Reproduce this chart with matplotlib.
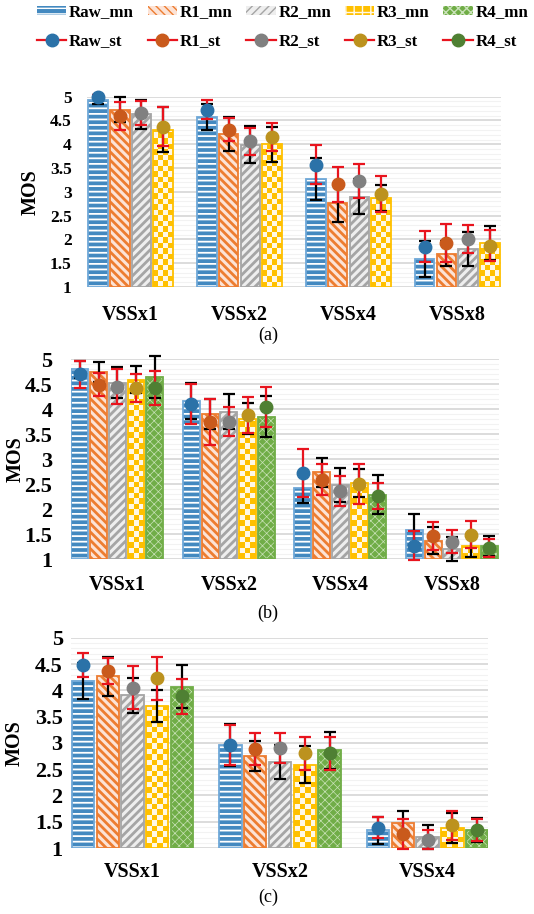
import numpy as np
import matplotlib
matplotlib.use("Agg")
from matplotlib import pyplot as plt
from matplotlib.patches import Patch
from matplotlib.lines import Line2D
from matplotlib.colors import ListedColormap
from matplotlib.ticker import FuncFormatter

#---------------------------DATA---------------------------------
series = ["Raw", "R1", "R2", "R3", "R4"]

# panel (a): no R4
groups_a = ["VSSx1", "VSSx2", "VSSx4", "VSSx8"]
mn_a = [[4.94, 4.58, 3.27, 1.59],
        [4.73, 4.21, 2.76, 1.70],
        [4.63, 3.99, 2.90, 1.80],
        [4.31, 4.00, 2.87, 1.92]]
mn_err_a = [[0.10, 0.27, 0.45, 0.37],
            [0.26, 0.36, 0.40, 0.26],
            [0.30, 0.39, 0.36, 0.35],
            [0.47, 0.37, 0.27, 0.36]]
st_a = [[5.00, 4.73, 3.57, 1.85],
        [4.59, 4.31, 3.16, 1.92],
        [4.65, 4.06, 3.23, 2.01],
        [4.37, 4.15, 2.96, 1.87]]
st_err_a = [[0.03, 0.20, 0.41, 0.33],
            [0.30, 0.25, 0.37, 0.40],
            [0.25, 0.28, 0.35, 0.30],
            [0.41, 0.30, 0.38, 0.33]]

# panel (b)
groups_b = ["VSSx1", "VSSx2", "VSSx4", "VSSx8"]
mn_b = [[4.80, 4.17, 2.43, 1.59],
        [4.74, 3.90, 2.74, 1.37],
        [4.53, 3.95, 2.49, 1.21],
        [4.59, 3.81, 2.53, 1.27],
        [4.64, 3.85, 2.29, 1.27]]
mn_err_b = [[0.17, 0.36, 0.30, 0.31],
            [0.20, 0.30, 0.29, 0.27],
            [0.31, 0.35, 0.34, 0.24],
            [0.27, 0.31, 0.28, 0.23],
            [0.42, 0.41, 0.39, 0.20]]
st_b = [[4.70, 4.10, 2.73, 1.27],
        [4.49, 3.75, 2.59, 1.47],
        [4.45, 3.75, 2.37, 1.35],
        [4.43, 3.89, 2.51, 1.49],
        [4.42, 4.05, 2.27, 1.22]]
st_err_b = [[0.27, 0.40, 0.48, 0.29],
            [0.23, 0.46, 0.31, 0.28],
            [0.35, 0.29, 0.30, 0.23],
            [0.28, 0.36, 0.40, 0.27],
            [0.34, 0.40, 0.26, 0.18]]

# panel (c)
groups_c = ["VSSx1", "VSSx2", "VSSx4"]
mn_c = [[4.18, 2.97, 1.34],
        [4.27, 2.75, 1.48],
        [3.91, 2.64, 1.21],
        [3.70, 2.59, 1.38],
        [4.07, 2.86, 1.34]]
mn_err_c = [[0.35, 0.40, 0.26],
            [0.37, 0.29, 0.23],
            [0.33, 0.33, 0.23],
            [0.30, 0.35, 0.28],
            [0.41, 0.35, 0.23]]
st_c = [[4.48, 2.96, 1.39],
        [4.37, 2.89, 1.27],
        [4.05, 2.90, 1.16],
        [4.23, 2.80, 1.43],
        [3.89, 2.80, 1.34]]
st_err_c = [[0.23, 0.38, 0.20],
            [0.25, 0.30, 0.28],
            [0.41, 0.29, 0.18],
            [0.41, 0.31, 0.27],
            [0.33, 0.31, 0.21]]

#---------------------------STYLE--------------------------------
FACE = {"Raw": "#4389C0", "R1": "#FCE3D6", "R2": "#EEEEEE", "R3": "#FFC000", "R4": "#70AD47"}
HATCH_COL = {"Raw": "white", "R1": "#ED7D31", "R2": "#A5A5A5", "R3": "#FFC000", "R4": "#C9E2B8"}
HATCH = {"Raw": "---", "R1": "\\\\\\\\", "R2": "////", "R3": "", "R4": "xxxx"}
HATCH_LW = {"Raw": 1.3, "R1": 2.0, "R2": 2.0, "R3": 1.0, "R4": 0.5}
EDGE = {"Raw": "#6FA8D8", "R1": "#ED7D31", "R2": "#A5A5A5", "R3": "#FFC000", "R4": "#70AD47"}
MARK = {"Raw": "#2B72A8", "R1": "#C95A1C", "R2": "#808080", "R3": "#BC921E", "R4": "#4F8033"}
RED = "#E8141E"

plt.rcParams["font.family"] = "serif"
plt.rcParams["font.serif"] = ["Liberation Serif", "Times New Roman", "DejaVu Serif"]


def checker(ax, bar):
    # yellow / white checkerboard clipped to the bar
    p0 = ax.transData.transform((0, 0))
    p1 = ax.transData.transform((1, 1))
    px_x, px_y = p1[0] - p0[0], p1[1] - p0[1]
    sq = 5.5
    x0, w = bar.get_x(), bar.get_width()
    y0, h = bar.get_y(), bar.get_height()
    ncol = max(1, int(round(w * px_x / sq)))
    sq_y = sq / px_y
    nrow = max(1, int(np.ceil(h / sq_y)))
    img = np.add.outer(np.arange(nrow), np.arange(ncol)) % 2
    im = ax.imshow(img, extent=(x0, x0 + w, y0, y0 + nrow * sq_y), origin="lower",
                   cmap=ListedColormap(["#FFC000", "#FFF8E6"]), interpolation="nearest",
                   aspect="auto", zorder=2.5)
    im.set_clip_path(bar)


def panel(rect, groups, names, mn, mn_err, st, st_err, pitch, xlim,
          tick_size, ypad, xpad, ylab_x):
    ax = fig.add_axes(rect)
    x = np.arange(len(groups))
    n = len(names)
    ax.set_xlim(*xlim)
    ax.set_ylim(1, 5)
    width = pitch * 0.9
    for i, name in enumerate(names):
        xs = x + (i - (n - 1) / 2) * pitch
        h = np.array(mn[i]) - 1
        with plt.rc_context({"hatch.linewidth": HATCH_LW[name]}):
            bars = ax.bar(xs, h, width=width, bottom=1, color=FACE[name],
                          edgecolor=HATCH_COL[name], hatch=HATCH[name] or None,
                          linewidth=0, zorder=2)
        for b in bars:
            if hasattr(b, "set_hatch_linewidth"):
                b.set_hatch_linewidth(HATCH_LW[name])
        if name == "R3":
            for b in bars:
                checker(ax, b)
        ax.bar(xs, h, width=width, bottom=1, fill=False, edgecolor=EDGE[name],
               linewidth=1.3, zorder=3)
        eb = ax.errorbar(xs, mn[i], yerr=mn_err[i], fmt="none", ecolor="black",
                         elinewidth=1.6, capsize=4.2, capthick=1.6, zorder=4)
        eb2 = ax.errorbar(xs, st[i], yerr=st_err[i], fmt="none", ecolor=RED,
                          elinewidth=1.6, capsize=4.2, capthick=1.6, zorder=5)
        for e in (eb, eb2):
            for art in list(e.lines[1]) + list(e.lines[2]):
                art.set_clip_on(False)
        ax.plot(xs, st[i], "o", color=MARK[name], ms=9, zorder=6, clip_on=False)
    ax.set_xlim(*xlim)
    ax.set_ylim(1, 5)

    ax.set_xticks(x)
    ax.set_xticklabels(groups, fontsize=14.5, fontweight="bold")
    ax.set_yticks(np.arange(1, 5.01, 0.5))
    ax.set_yticks(np.arange(1, 5.01, 0.1), minor=True)
    ax.yaxis.set_major_formatter(FuncFormatter(lambda v, p: "%g" % v))
    for lab in ax.get_yticklabels():
        lab.set_fontweight("bold")
    ax.tick_params(axis="y", labelsize=tick_size, pad=ypad)
    ax.tick_params(axis="x", pad=xpad)
    ax.tick_params(which="both", length=0)
    ax.grid(axis="y", which="major", color="#D9D9D9", linewidth=1.3)
    ax.grid(axis="y", which="minor", color="#F2F2F2", linewidth=0.8)
    ax.set_axisbelow(True)
    for s in ax.spines.values():
        s.set_visible(False)
    ax.set_ylabel("MOS", fontsize=14.5, fontweight="bold")
    ax.yaxis.set_label_coords(ylab_x, 0.5)
    return ax


fig = plt.figure(figsize=(5.34, 9.14), dpi=100)

panel([0.163, 0.686, 0.775, 0.2082], groups_a, series[:4], mn_a, mn_err_a, st_a, st_err_a,
      0.2, (-0.40, 3.40), 12.5, 11, 13, -0.111)
panel([0.133, 0.3884, 0.801, 0.2188], groups_b, series, mn_b, mn_err_b, st_b, st_err_b,
      0.168, (-0.415, 3.42), 16, 13.5, 11.5, -0.107)
panel([0.133, 0.0722, 0.781, 0.2298], groups_c, series, mn_c, mn_err_c, st_c, st_err_c,
      0.168, (-0.417, 2.41), 16, 6, 10, -0.110)

fig.text(0.502, 0.6335, "(a)", ha="center", va="center", fontsize=13)
fig.text(0.502, 0.3293, "(b)", ha="center", va="center", fontsize=13)
fig.text(0.502, 0.0186, "(c)", ha="center", va="center", fontsize=13)

#---------------------------LEGEND-------------------------------
handles, labels = [], []
for name in series:
    with plt.rc_context({"hatch.linewidth": HATCH_LW[name]}):
        hp = Patch(facecolor=FACE[name],
                   edgecolor=HATCH_COL[name] if name != "R3" else "#FFF8E6",
                   hatch=HATCH[name] or "++", linewidth=0)
    handles.append(hp)
    labels.append(name + "_mn")
    handles.append(Line2D([], [], color=RED, lw=1.6, marker="o", ms=9,
                          markerfacecolor=MARK[name], markeredgecolor=MARK[name]))
    labels.append(name + "_st")
fig.legend(handles, labels, ncol=5, loc="upper left", bbox_to_anchor=(0.069, 0.995),
           frameon=False, borderpad=0, borderaxespad=0, handlelength=1.75,
           handleheight=0.5, handletextpad=0.15, columnspacing=0.8, labelspacing=0.75,
           prop={"weight": "bold", "size": 12.2})

fig.savefig("out.png", dpi=100)
